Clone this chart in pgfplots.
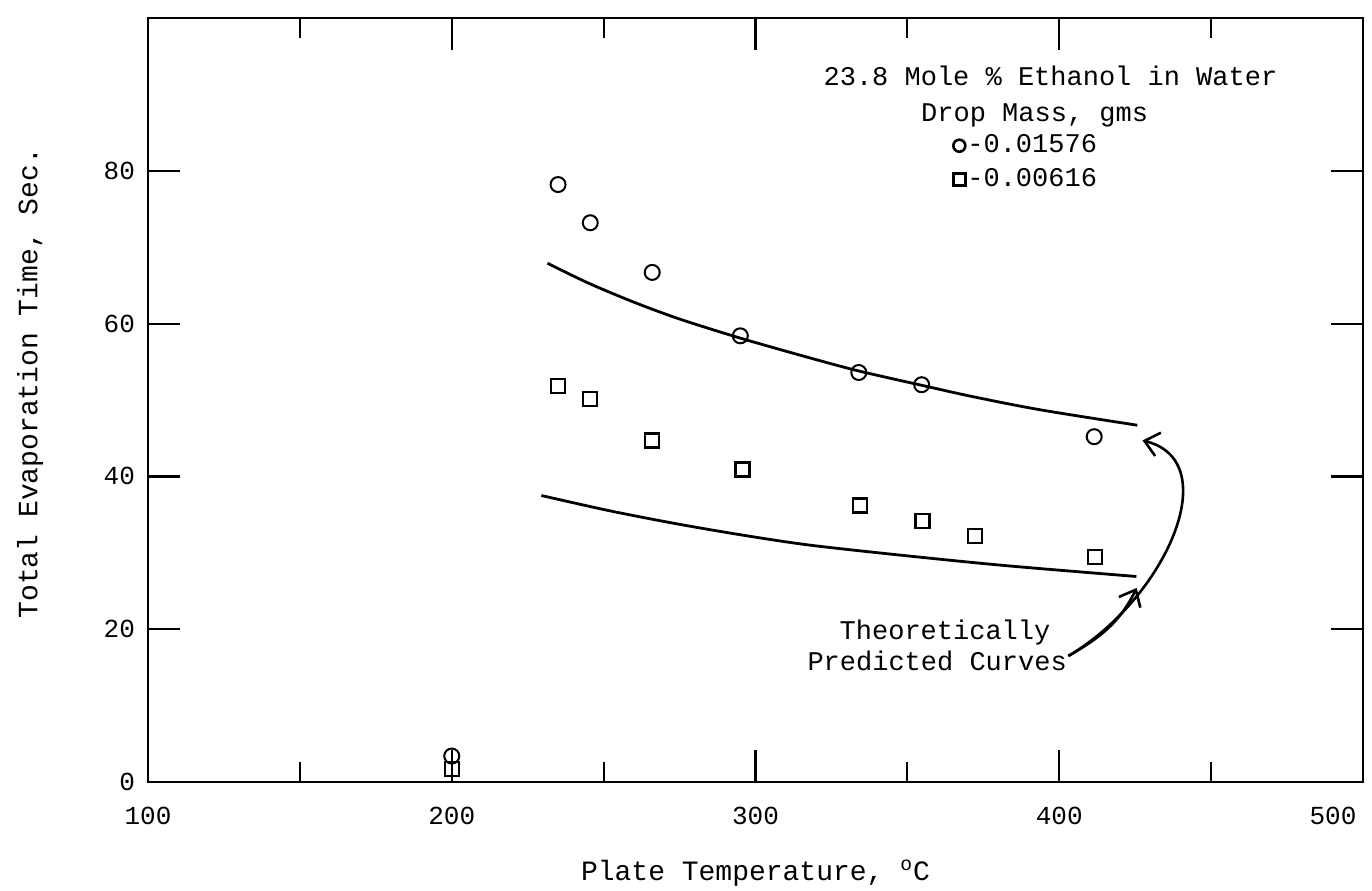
\documentclass[border=0pt]{standalone}
\usepackage{pgfplots}
\pgfplotsset{compat=1.18}
\usepackage{fontspec}
\setmainfont{Liberation Mono}
\usetikzlibrary{arrows.meta}

\begin{document}
\begin{tikzpicture}
\begin{axis}[
  scale only axis,
  width=607.5pt, height=382pt,
  xmin=100, xmax=500, ymin=0, ymax=100,
  xtick={100,200,300,400,500},
  xticklabels={100,200,300,400,{\kern-15pt 500\kern15pt}},
  minor xtick={150,250,350,450},
  ytick={0,20,40,60,80},
  tick align=inside, tick pos=both,
  major tick length=16pt, minor tick length=10pt,
  axis line style={line width=1.2pt},
  every tick/.append style={black, line width=1.1pt},
  /pgf/number format/assume math mode=true,
  tick label style={font=\fontsize{13}{15}\selectfont},
  xticklabel style={yshift=-9pt},
  yticklabel style={xshift=-3pt},
  xlabel={Plate Temperature, \textsuperscript{o}C},
  ylabel={Total Evaporation Time, Sec.},
  label style={font=\fontsize{14}{16}\selectfont},
  x label style={at={(axis description cs:0.5,-0.119)}, anchor=center},
  y label style={at={(axis description cs:-0.0971,0.522)}, anchor=center},
  legend style={at={(axis cs:365,85.3)}, anchor=north west, draw=none, fill=none,
    font=\fontsize{13.5}{15}\selectfont, inner sep=0pt, row sep=2pt,
    nodes={inner sep=1pt, text height=10pt, text depth=3pt}},
  legend cell align=left,
  legend image post style={mark size=3pt, line width=1.3pt},
]
\addplot[only marks, mark=o, mark size=3.75pt, line width=1pt] coordinates {
  (200,3.4) (235,78.2) (245.6,73.2) (266,66.7) (295,58.4) (334,53.6) (354.7,52.0) (411.5,45.2)
};
\addlegendentry{-0.01576}
\addplot[only marks, mark=square, mark size=3.5pt, line width=1.1pt] coordinates {
  (200,1.7) (235,51.8) (245.6,50.1) (266,44.7) (295.7,40.9) (334.5,36.2) (355,34.2) (372.3,32.2) (411.7,29.5)
};
\addlegendentry{-0.00616}
\addplot[forget plot, smooth, line width=1.4pt] coordinates {
  (231.5,67.9) (245,65.3) (260,62.8) (275,60.6) (295,58.1) (318,55.5) (334,53.8) (355,51.9) (372,50.4) (394,48.7) (425.7,46.7)
};
\addplot[forget plot, smooth, line width=1.4pt] coordinates {
  (229.5,37.5) (252,35.5) (274,33.8) (296,32.3) (318,31.0) (350,29.6) (383,28.3) (425.4,26.9)
};
\node[font=\fontsize{13.5}{15}\selectfont, anchor=base] at (axis cs:397.1,91.1) {23.8 Mole \% Ethanol in Water};
\node[font=\fontsize{13.5}{15}\selectfont, anchor=base] at (axis cs:391.9,86.5) {Drop Mass, gms};
\node[font=\fontsize{13.5}{15}\selectfont, anchor=base] at (axis cs:362.4,18.7) {Theoretically};
\node[font=\fontsize{13.5}{15}\selectfont, anchor=base] at (axis cs:359.8,14.6) {Predicted Curves};
\draw[line width=1.3pt, -{Straight Barb[length=7pt, width=12pt]}] (axis cs:403,16.5) .. controls (axis cs:435,24) and (axis cs:455,42) .. (axis cs:427.4,44.7);
\draw[line width=1.3pt, -{Straight Barb[length=7pt, width=12pt]}] (axis cs:403,16.5) .. controls (axis cs:414,19) and (axis cs:420,21) .. (axis cs:425.5,25.4);
\end{axis}
\pgfresetboundingbox
\path ([shift={(-74pt,-54pt)}]current axis.south west) rectangle ([shift={(4.5pt,9pt)}]current axis.north east);
\end{tikzpicture}
\end{document}
